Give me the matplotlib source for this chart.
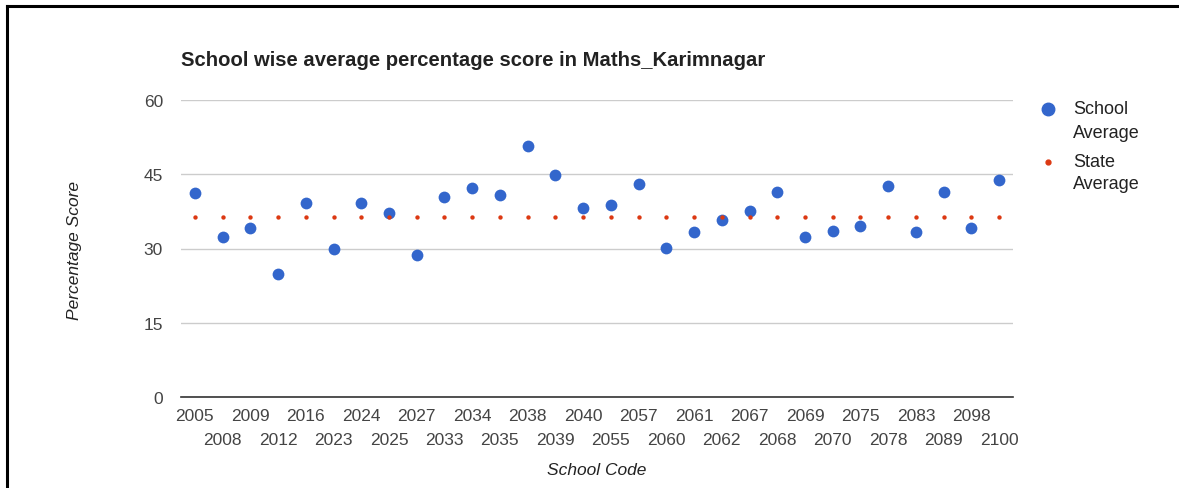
import matplotlib
matplotlib.use('Agg')
import matplotlib.pyplot as plt
from matplotlib.lines import Line2D

plt.rcParams['font.family'] = ['Liberation Sans', 'DejaVu Sans']

school_codes = ['2005', '2008', '2009', '2012', '2016', '2023', '2024', '2025', '2027', '2033',
                '2034', '2035', '2038', '2039', '2040', '2055', '2057', '2060', '2061', '2062',
                '2067', '2068', '2069', '2070', '2075', '2078', '2083', '2089', '2098', '2100']
school_avg = [41.2, 32.4, 34.1, 24.9, 39.2, 30.0, 39.2, 37.2, 28.7, 40.5,
              42.3, 40.8, 50.8, 44.9, 38.1, 38.8, 43.1, 30.2, 33.3, 35.7,
              37.6, 41.5, 32.4, 33.5, 34.5, 42.7, 33.3, 41.5, 34.1, 43.9]
state_avg = [36.4] * 30
y_ticks = [0, 15, 30, 45, 60]

W, H = 1179, 489
fig = plt.figure(figsize=(W / 100, H / 100), dpi=100)
ax = fig.add_axes([181 / W, 1 - 398 / H, (1013 - 181) / W, (398 - 101) / H])

x = list(range(len(school_codes)))
ax.scatter(x, school_avg, s=72, color='#3366cc', zorder=3, linewidths=0)
ax.scatter(x, state_avg, s=10, color='#dc3912', zorder=4, linewidths=0)

ax.set_xlim(-0.5, len(x) - 0.5)
ax.set_ylim(0, 60)
ax.set_yticks(y_ticks)
ax.set_yticklabels([str(v) for v in y_ticks])
ax.grid(axis='y', color='#cccccc', linewidth=1)
ax.set_axisbelow(True)
for s in ['top', 'right', 'left']:
    ax.spines[s].set_visible(False)
ax.spines['bottom'].set_color('#333333')
ax.spines['bottom'].set_linewidth(1.2)
ax.spines['bottom'].set_zorder(2)

# alternate the labels on two rows
ax.set_xticks(x[0::2], school_codes[0::2])
ax.set_xticks(x[1::2], school_codes[1::2], minor=True)
ax.tick_params(axis='x', which='major', length=0, pad=8, labelsize=12.5, labelcolor='#444444')
ax.tick_params(axis='x', which='minor', length=0, pad=25.5, labelsize=12.5, labelcolor='#444444')
ax.tick_params(axis='y', length=0, pad=13, labelsize=12.5, labelcolor='#444444')

fig.text(181 / W, 1 - 61 / H, 'School wise average percentage score in Maths_Karimnagar',
         fontsize=14.6, fontweight='bold', color='#222222', va='center', ha='left')
fig.text(75 / W, 1 - 250 / H, 'Percentage Score', rotation=90, style='italic',
         fontsize=12.5, color='#222222', va='center', ha='center')
fig.text(597 / W, 1 - 471 / H, 'School Code', style='italic',
         fontsize=12.5, color='#222222', va='center', ha='center')

# legend
fig.add_artist(Line2D([1048 / W], [1 - 110 / H], marker='o', markersize=9, color='#3366cc',
                      linestyle='none', transform=fig.transFigure))
fig.add_artist(Line2D([1048 / W], [1 - 163 / H], marker='o', markersize=3.5, color='#dc3912',
                      linestyle='none', transform=fig.transFigure))
fig.text(1073 / W, 1 - 110 / H, 'School', fontsize=13, color='#222222', va='center')
fig.text(1073 / W, 1 - 133 / H, 'Average', fontsize=13, color='#222222', va='center')
fig.text(1073 / W, 1 - 163 / H, 'State', fontsize=13, color='#222222', va='center')
fig.text(1073 / W, 1 - 185 / H, 'Average', fontsize=13, color='#222222', va='center')

# black frame on top and left edges
fig.add_artist(Line2D([7 / W, 1], [1 - 7 / H, 1 - 7 / H], color='black', linewidth=2.2,
                      transform=fig.transFigure))
fig.add_artist(Line2D([7 / W, 7 / W], [0, 1 - 7 / H], color='black', linewidth=2.2,
                      transform=fig.transFigure))

fig.savefig('out.png', dpi=100)
